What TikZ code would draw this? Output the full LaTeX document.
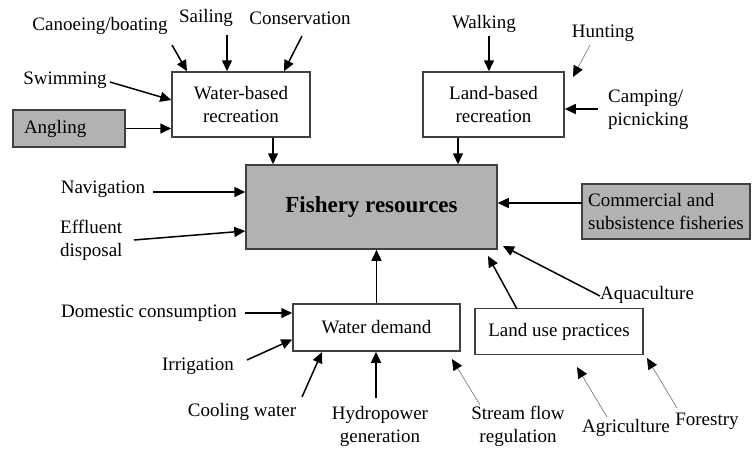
\documentclass[tikz,border=0pt]{standalone}
\usepackage{fontspec}
\setmainfont{Liberation Serif}
\usetikzlibrary{arrows.meta}
\begin{document}
\begin{tikzpicture}[x=1pt,y=-1pt,
  every node/.style={font=\fontsize{19}{23}\selectfont, inner sep=0pt},
  box/.style={draw=black!75, line width=1.5pt, align=center},
  gbox/.style={box, fill=black!30},
  arr/.style={line width=1.5pt, -{Triangle[length=11pt,width=10pt]}},
  thinarr/.style={draw=black!50, line width=0.7pt, -{Triangle[length=11pt,width=10pt,color=black]}},
  lbl/.style={align=center}
]
\useasboundingbox (0,0) rectangle (755,448);

% boxes
\node[gbox, minimum width=251pt, minimum height=84pt, font=\fontsize{23}{26}\selectfont\bfseries] (fish) at (371.5,207) {Fishery resources};
\node[box, minimum width=138pt, minimum height=65pt] (wbr) at (241,104.5) {Water-based\\recreation};
\node[box, minimum width=141pt, minimum height=65pt] (lbr) at (493.5,104.5) {Land-based\\recreation};
\node[gbox, minimum height=37pt, inner xsep=11pt, text width=90pt, align=left] (ang) at (69,128.5) {Angling};
\node[gbox, minimum height=55pt, minimum width=168pt, align=left] (comm) at (666,211.5) {Commercial and\\subsistence fisheries};
\node[box, minimum width=167pt, minimum height=47pt] (wd) at (376.5,327.5) {Water demand};
\node[box, minimum width=168pt, minimum height=46pt] (lup) at (559,331.5) {Land use practices};

% labels
\node[lbl] (canoe) at (100,26) {Canoeing/boating};
\node[lbl] (sail) at (206,18) {Sailing};
\node[lbl] (cons) at (300,18) {Conservation};
\node[lbl] (swim) at (65,80) {Swimming};
\node[lbl] (walk) at (484,24) {Walking};
\node[lbl] (hunt) at (603,33) {Hunting};
\node[anchor=west, align=left] (camp) at (608,110) {Camping/\\picnicking};
\node[lbl] (nav) at (103,189) {Navigation};
\node[anchor=west, align=left] (eff) at (60,240) {Effluent\\disposal};
\node[lbl] (dom) at (149,313) {Domestic consumption};
\node[lbl] (irr) at (198,366) {Irrigation};
\node[lbl] (cool) at (242,412) {Cooling water};
\node[lbl] (hydro) at (380,426) {Hydropower\\generation};
\node[lbl] (stream) at (518,426) {Stream flow\\regulation};
\node[lbl] (agri) at (626,428) {Agriculture};
\node[lbl] (forest) at (707,421) {Forestry};
\node[lbl] (aqua) at (647,295) {Aquaculture};

% start points
\coordinate (s-canoe) at (172,45);
\coordinate (s-sail) at (227,35);
\coordinate (s-cons) at (302,36);
\coordinate (s-swim) at (110,82);
\coordinate (s-walk) at (489,36);
\coordinate (s-hunt) at (590,45);
\coordinate (s-camp) at (598,109);
\coordinate (s-nav) at (153,192);
\coordinate (s-eff) at (134,240);
\coordinate (s-comm) at (582,203);
\coordinate (s-aqua) at (600,296);
\coordinate (s-lup) at (517,309);
\coordinate (s-dom) at (245,313);
\coordinate (s-irr) at (247,360);
\coordinate (s-cool) at (302,397);
\coordinate (s-hydro) at (376,398);
\coordinate (s-stream) at (480,405);
\coordinate (s-agri) at (607,417);
\coordinate (s-forest) at (677,408);

% connectors
\draw[arr] (s-canoe) -- ([xshift=-54pt]wbr.north);
\draw[arr] (s-sail) -- (s-sail |- wbr.north);
\draw[arr] (s-cons) -- ([xshift=43pt]wbr.north);
\draw[arr] (s-swim) -- ([yshift=4.5pt]wbr.west);
\draw[arr] (ang.east) -- (wbr.west |- ang.east);
\draw[arr] ([xshift=32pt]wbr.south) -- ([xshift=32pt]wbr.south |- fish.north);
\draw[arr] (s-walk) -- (s-walk |- lbr.north);
\draw[thinarr] (s-hunt) -- (573,77);
\draw[arr] (s-camp) -- (lbr.east |- s-camp);
\draw[arr] ([xshift=-35.5pt]lbr.south) -- ([xshift=-35.5pt]lbr.south |- fish.north);
\draw[arr] (s-nav) -- (fish.west |- s-nav);
\draw[arr] (s-eff) -- ([yshift=-24pt]fish.west);
\draw[arr] (s-comm) -- (fish.east |- s-comm);
\draw[arr] (s-aqua) -- (503,246);
\draw[arr] (s-lup) -- (488,256);
\draw[arr] (wd.north) -- (wd.north |- fish.south);
\draw[arr] (s-dom) -- (wd.west |- s-dom);
\draw[arr] (s-irr) -- ([yshift=-12pt]wd.west);
\draw[arr] (s-cool) -- (322,352);
\draw[arr] (s-hydro) -- (s-hydro |- wd.south);
\draw[thinarr] (s-stream) -- (452,359);
\draw[thinarr] (s-agri) -- (577,367);
\draw[thinarr] (s-forest) -- (647,358);
\end{tikzpicture}
\end{document}
